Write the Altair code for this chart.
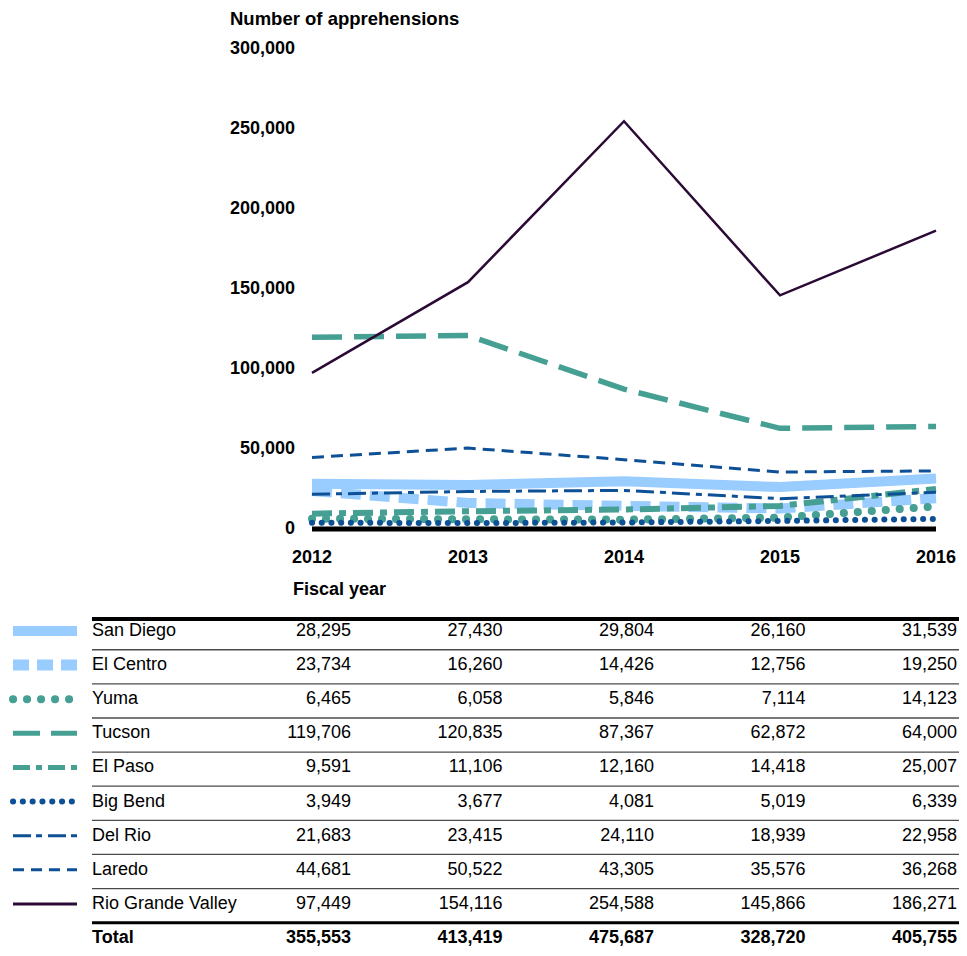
import altair as alt
import pandas as pd

# ---------------- data ----------------
years = [2012, 2013, 2014, 2015, 2016]
sectors = ["San Diego", "El Centro", "Yuma", "Tucson", "El Paso",
           "Big Bend", "Del Rio", "Laredo", "Rio Grande Valley"]
san_diego = [28295, 27430, 29804, 26160, 31539]
el_centro = [23734, 16260, 14426, 12756, 19250]
yuma = [6465, 6058, 5846, 7114, 14123]
tucson = [119706, 120835, 87367, 62872, 64000]
el_paso = [9591, 11106, 12160, 14418, 25007]
big_bend = [3949, 3677, 4081, 5019, 6339]
del_rio = [21683, 23415, 24110, 18939, 22958]
laredo = [44681, 50522, 43305, 35576, 36268]
rio_grande = [97449, 154116, 254588, 145866, 186271]
totals = [355553, 413419, 475687, 328720, 405755]
y_ticks = [0, 50000, 100000, 150000, 200000, 250000, 300000]

series_values = [san_diego, el_centro, yuma, tucson, el_paso,
                 big_bend, del_rio, laredo, rio_grande]

# ---------------- styles ----------------
LB = "#99ccff"
TEAL = "#45a093"
DB = "#0d5096"
PURPLE = "#2b0a35"
FONT = "Liberation Sans"
W, H = 951, 940

# chart line style: color, width, dash, cap
line_style = {
    "San Diego": (LB, 10, None, "butt"),
    "El Centro": (LB, 10, [20, 9], "butt"),
    "Yuma": (TEAL, 8, [0.1, 13.9], "round"),
    "Tucson": (TEAL, 5.5, [30, 12], "butt"),
    "El Paso": (TEAL, 6, [20, 7, 7, 7], "butt"),
    "Big Bend": (DB, 6, [0.1, 9.6], "round"),
    "Del Rio": (DB, 3, [18, 6, 6, 6], "butt"),
    "Laredo": (DB, 3, [12, 7], "butt"),
    "Rio Grande Valley": (PURPLE, 2.5, None, "butt"),
}
# legend symbol style: color, width, dash, cap, x start, x end
legend_style = {
    "San Diego": (LB, 10, None, "butt", 5, 69),
    "El Centro": (LB, 11, [16, 8], "butt", 5, 69),
    "Yuma": (TEAL, 8, [0.1, 13.9], "round", 5, 62),
    "Tucson": (TEAL, 5, [27, 11], "butt", 5, 69),
    "El Paso": (TEAL, 5, [17, 6, 6, 6], "butt", 5, 69),
    "Big Bend": (DB, 6, [0.1, 9.7], "round", 5, 65),
    "Del Rio": (DB, 3, [18, 5, 6, 6], "butt", 5, 69),
    "Laredo": (DB, 3, [11, 7], "butt", 5, 69),
    "Rio Grande Valley": (PURPLE, 3, None, "butt", 5, 69),
}

# ---------------- scales ----------------
def XL():
    return alt.Scale(domain=[2012, 2016], range=[304, 928])

def YL():
    return alt.Scale(domain=[0, 300000], range=[521, 40.5])

def XT():
    return alt.Scale(domain=[2012, 2016], range=[343, 949])

def YT():
    return alt.Scale(domain=[0, 9], range=[623, 930])

layers = []

# y tick labels
layers.append(
    alt.Chart(pd.DataFrame({"v": y_ticks})).mark_text(
        align="right", baseline="middle", font=FONT, fontSize=18,
        fontWeight="bold", color="black"
    ).encode(
        x=alt.value(287),
        y=alt.Y("v:Q", scale=YL(), axis=None),
        text=alt.Text("v:Q", format=","),
    )
)
# x labels
layers.append(
    alt.Chart(pd.DataFrame({"yr": years})).mark_text(
        align="center", baseline="middle", font=FONT, fontSize=18,
        fontWeight="bold", color="black"
    ).encode(
        x=alt.X("yr:Q", scale=XL(), axis=None),
        y=alt.value(550),
        text=alt.Text("yr:Q", format="d"),
    )
)
# titles
layers.append(
    alt.Chart(pd.DataFrame({"t": ["Number of apprehensions"]})).mark_text(
        align="left", baseline="middle", font=FONT, fontSize=18.5,
        fontWeight="bold", color="black"
    ).encode(x=alt.value(222), y=alt.value(10.5), text="t:N")
)
layers.append(
    alt.Chart(pd.DataFrame({"t": ["Fiscal year"]})).mark_text(
        align="left", baseline="middle", font=FONT, fontSize=18,
        fontWeight="bold", color="black"
    ).encode(x=alt.value(285), y=alt.value(582), text="t:N")
)

# series lines
for name, vals in zip(sectors, series_values):
    c, w, d, cap = line_style[name]
    kw = dict(color=c, strokeWidth=w, strokeCap=cap, strokeJoin="miter")
    if d is not None:
        kw["strokeDash"] = d
    layers.append(
        alt.Chart(pd.DataFrame({"year": years, "value": vals})).mark_line(**kw).encode(
            x=alt.X("year:Q", scale=XL(), axis=None),
            y=alt.Y("value:Q", scale=YL(), axis=None),
        )
    )

# zero baseline (thick black)
layers.append(
    alt.Chart(pd.DataFrame({"x0": [years[0]], "x1": [years[-1]], "y": [0]})).mark_rule(
        color="black", strokeWidth=5
    ).encode(
        x=alt.X("x0:Q", scale=XL(), axis=None),
        x2="x1:Q",
        y=alt.Y("y:Q", scale=YL(), axis=None),
    )
)

# ---------------- table ----------------
rows = list(range(len(sectors)))
sep_pos = [r + 0.55 for r in rows[:-1]]
layers.append(
    alt.Chart(pd.DataFrame({"p": sep_pos})).mark_rule(color="#4a4a4a", strokeWidth=1.3).encode(
        x=alt.value(84), x2=alt.value(W),
        y=alt.Y("p:Q", scale=YT(), axis=None),
    )
)
layers.append(
    alt.Chart(pd.DataFrame({"p": [-0.35]})).mark_rule(color="black", strokeWidth=4).encode(
        x=alt.value(84), x2=alt.value(W),
        y=alt.Y("p:Q", scale=YT(), axis=None),
    )
)
layers.append(
    alt.Chart(pd.DataFrame({"p": [len(sectors) - 0.45]})).mark_rule(color="black", strokeWidth=3).encode(
        x=alt.value(84), x2=alt.value(W),
        y=alt.Y("p:Q", scale=YT(), axis=None),
    )
)

# legend symbols
for i, name in enumerate(sectors):
    c, w, d, cap, xa, xb = legend_style[name]
    kw = dict(color=c, strokeWidth=w, strokeCap=cap)
    if d is not None:
        kw["strokeDash"] = d
    layers.append(
        alt.Chart(pd.DataFrame({"r": [i]})).mark_rule(**kw).encode(
            x=alt.value(xa), x2=alt.value(xb),
            y=alt.Y("r:Q", scale=YT(), axis=None),
        )
    )

# row names
layers.append(
    alt.Chart(pd.DataFrame({"r": rows, "name": sectors})).mark_text(
        align="left", baseline="middle", font=FONT, fontSize=18, color="black"
    ).encode(
        x=alt.value(84),
        y=alt.Y("r:Q", scale=YT(), axis=None),
        text="name:N",
    )
)
layers.append(
    alt.Chart(pd.DataFrame({"r": [len(sectors)], "name": ["Total"]})).mark_text(
        align="left", baseline="middle", font=FONT, fontSize=18,
        fontWeight="bold", color="black"
    ).encode(
        x=alt.value(84),
        y=alt.Y("r:Q", scale=YT(), axis=None),
        text="name:N",
    )
)

# table numbers
recs = []
for i, vals in enumerate(series_values):
    for yr, v in zip(years, vals):
        recs.append({"r": i, "year": yr, "v": v})
layers.append(
    alt.Chart(pd.DataFrame(recs)).mark_text(
        align="right", baseline="middle", font=FONT, fontSize=18, color="black"
    ).encode(
        x=alt.X("year:Q", scale=XT(), axis=None),
        y=alt.Y("r:Q", scale=YT(), axis=None),
        text=alt.Text("v:Q", format=","),
    )
)
layers.append(
    alt.Chart(pd.DataFrame({"r": [len(sectors)] * len(years), "year": years, "v": totals})).mark_text(
        align="right", baseline="middle", font=FONT, fontSize=18,
        fontWeight="bold", color="black"
    ).encode(
        x=alt.X("year:Q", scale=XT(), axis=None),
        y=alt.Y("r:Q", scale=YT(), axis=None),
        text=alt.Text("v:Q", format=","),
    )
)

chart = alt.layer(*layers).resolve_scale(
    x="independent", y="independent"
).properties(
    width=W, height=H, padding=0, autosize="none", background="white"
).configure_view(stroke=None)

chart.save("out.html", embed_options={"renderer": "svg", "actions": False})
